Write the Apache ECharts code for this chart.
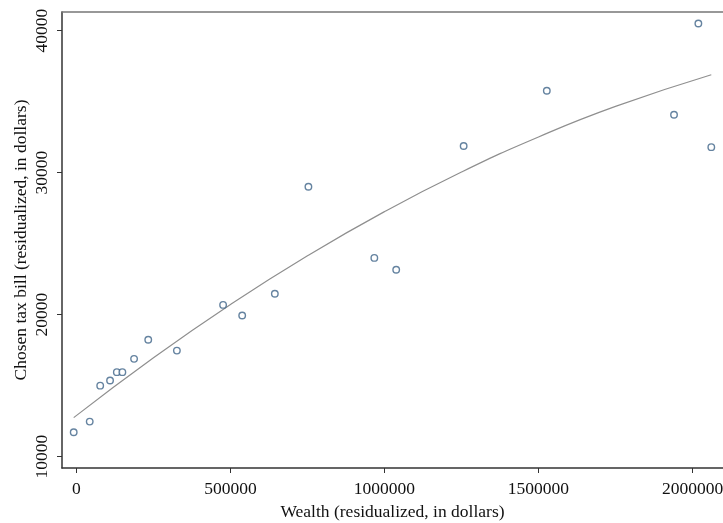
<!DOCTYPE html>
<html>
<head>
<meta charset="utf-8">
<script src="https://cdn.jsdelivr.net/npm/echarts@6/dist/echarts.min.js"></script>
<style>html,body{margin:0;padding:0;background:#fff}#c{width:723px;height:523px}</style>
</head>
<body>
<div id="c"></div>
<script>
// Scatter data: wealth (x) and chosen tax bill (y)
var wealth = [-9000, 43000, 77000, 109000, 131000, 149000, 187000, 233000, 326000, 476000, 538000, 644000, 753000, 967000, 1038000, 1257000, 1527000, 2019000, 1940000, 2061000];
var taxBill = [11720, 12470, 15000, 15360, 15950, 15950, 16890, 18230, 17470, 20690, 19940, 21470, 29010, 24000, 23160, 31880, 35770, 40510, 34080, 31800];
// Fitted curve
var fitX = [-9000, 250000, 500000, 750000, 1000000, 1250000, 1500000, 1750000, 2061000];
var fitY = [12750, 16970, 20720, 24150, 27260, 30050, 32520, 34670, 36900];
// Tick values
var xTicks = [0, 500000, 1000000, 1500000, 2000000];
var yTicks = [10000, 20000, 30000, 40000];

var scatterData = wealth.map(function (x, i) { return [x, taxBill[i]]; });
var fitData = fitX.map(function (x, i) { return [x, fitY[i]]; });
var font = 'Liberation Serif';
var fs = 17.5;
var plain = function (v) { return String(v); };
var chart = echarts.init(document.getElementById('c'), null, {renderer: 'canvas'});
chart.setOption({
  animation: false,
  grid: {left: 62, right: 0, top: 12, bottom: 55, containLabel: false, outerBoundsMode: 'none'},
  xAxis: [{
    type: 'value', min: -47000, max: 2099000,
    name: 'Wealth (residualized, in dollars)', nameLocation: 'middle', nameGap: 35,
    nameTextStyle: {fontFamily: font, fontSize: fs, color: '#111'},
    axisLine: {show: true, onZero: false, lineStyle: {color: '#333', width: 1.5}},
    axisTick: {show: true, length: 5, customValues: xTicks, lineStyle: {color: '#333'}},
    axisLabel: {customValues: xTicks, formatter: plain, fontFamily: font, fontSize: fs, color: '#111', margin: 12},
    splitLine: {show: false}
  }, {
    type: 'value', position: 'top', min: -47000, max: 2099000,
    axisLine: {show: true, onZero: false, lineStyle: {color: '#777', width: 1.5}},
    axisTick: {show: false}, axisLabel: {show: false}, splitLine: {show: false}
  }],
  yAxis: {
    type: 'value', min: 9200, max: 41320,
    name: 'Chosen tax bill (residualized, in dollars)', nameLocation: 'middle', nameGap: 32,
    nameMoveOverlap: false,
    nameTextStyle: {fontFamily: font, fontSize: fs, color: '#111'},
    axisLine: {show: true, onZero: false, lineStyle: {color: '#333', width: 1.5}},
    axisTick: {show: true, length: 5, customValues: yTicks, lineStyle: {color: '#333'}},
    axisLabel: {customValues: yTicks, formatter: plain, rotate: 90, fontFamily: font, fontSize: fs, color: '#111', margin: 11},
    splitLine: {show: false}
  },
  series: [{
    type: 'scatter', data: scatterData, symbol: 'circle', symbolSize: 6.5,
    itemStyle: {color: '#fff', borderColor: '#3f6488', borderWidth: 1.4}, z: 3
  }, {
    type: 'line', data: fitData, smooth: true, showSymbol: false,
    lineStyle: {color: '#8f8f8f', width: 1.2}, z: 2
  }]
});
</script>
</body>
</html>
